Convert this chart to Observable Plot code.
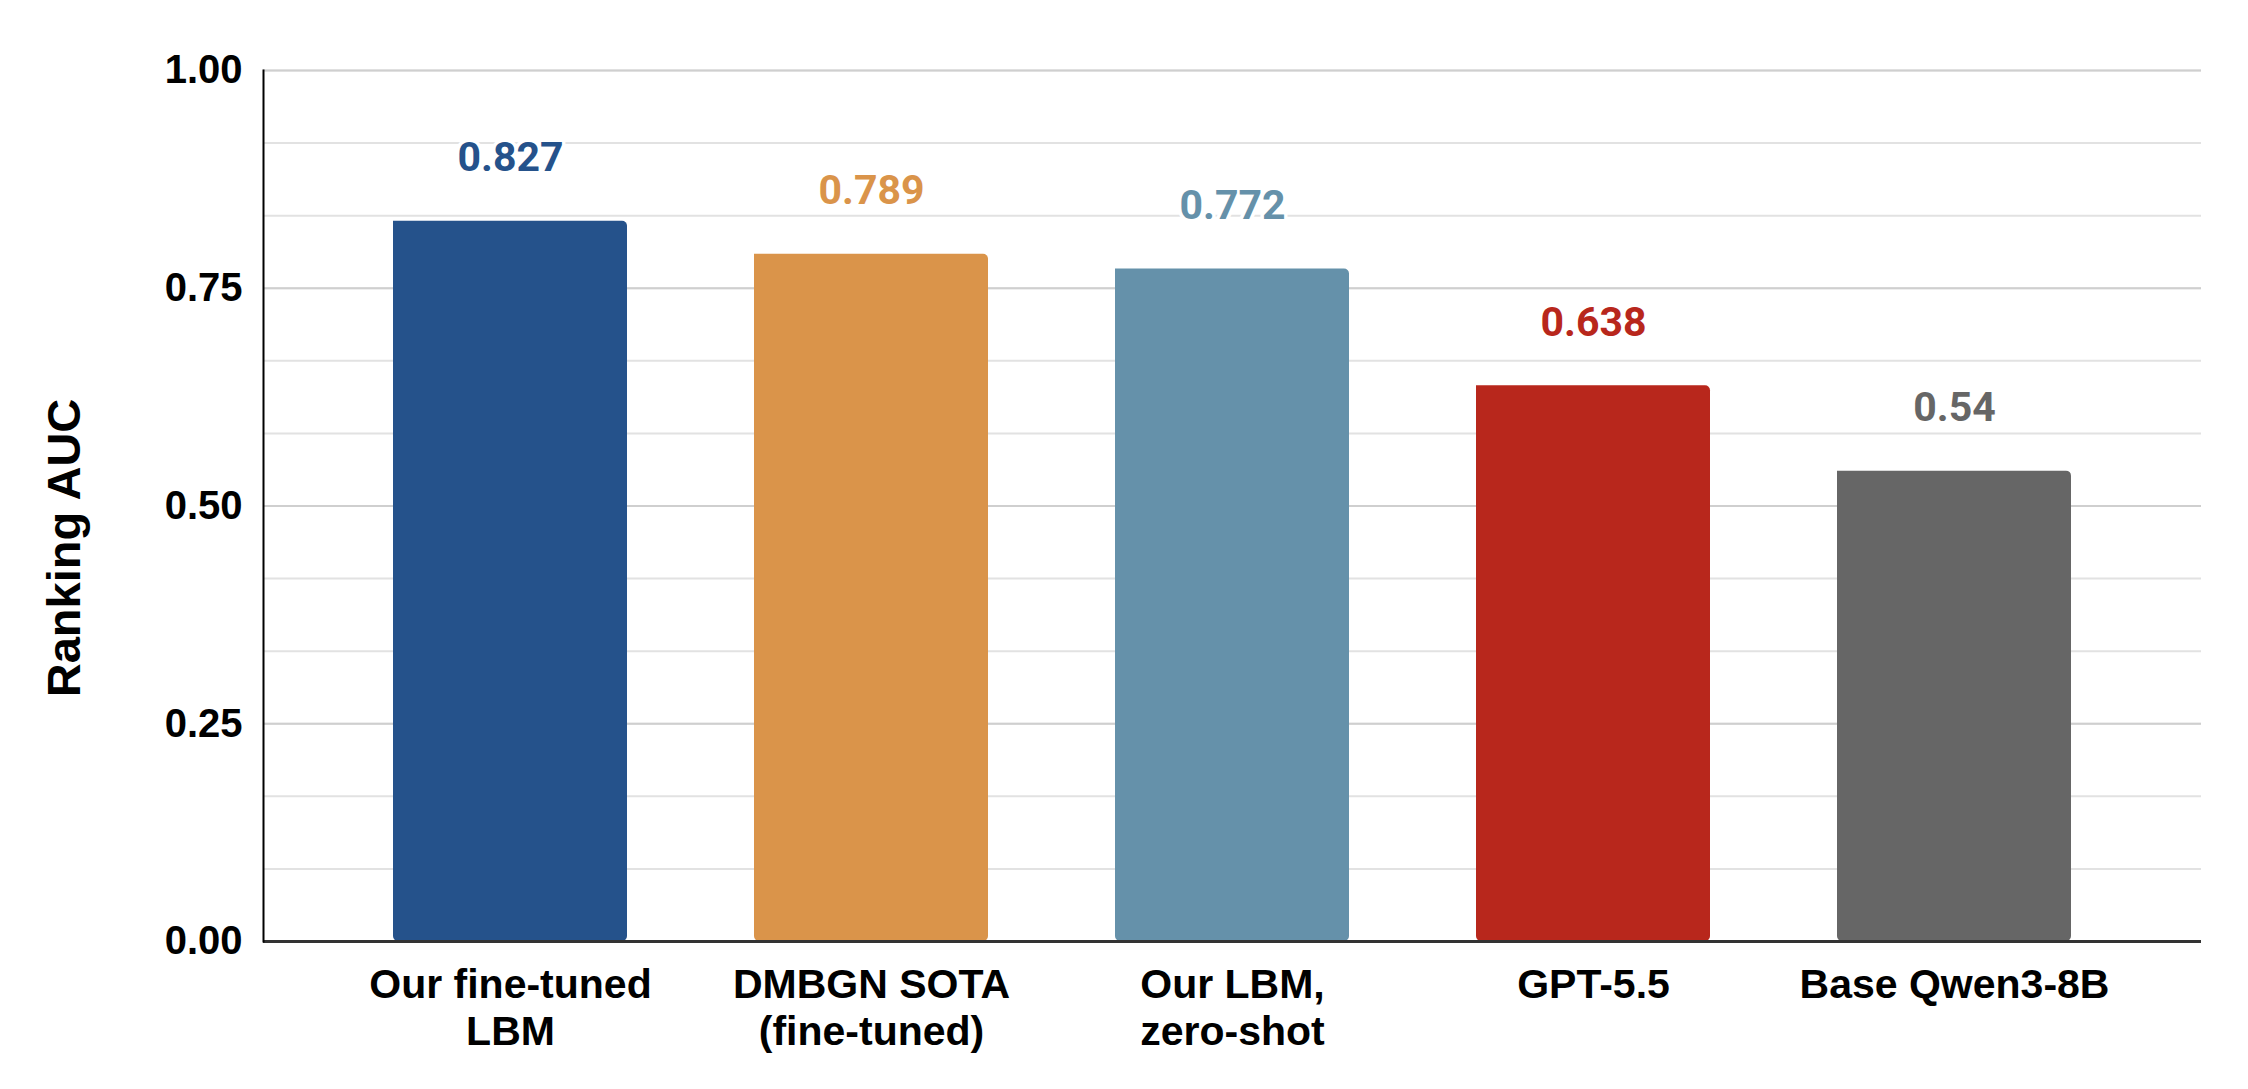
<!DOCTYPE html>
<html>
<head>
<meta charset="utf-8">
<script src="https://cdn.jsdelivr.net/npm/d3@7"></script>
<script src="https://cdn.jsdelivr.net/npm/@observablehq/plot@0.6"></script>
<style>
  html, body { margin: 0; padding: 0; background: #ffffff; }
  #chart svg { display: block; }
</style>
</head>
<body>
<div id="chart"></div>
<script>
// ---- Data ----
const categories = [
  "Our fine-tuned\nLBM",
  "DMBGN SOTA\n(fine-tuned)",
  "Our LBM,\nzero-shot",
  "GPT-5.5",
  "Base Qwen3-8B"
];
const aucValues = [0.827, 0.789, 0.772, 0.638, 0.54];
const yTickValues = [0, 0.25, 0.5, 0.75, 1];
const yAxisTitle = "Ranking AUC";

// ---- Styles ----
const barColors = ["#25528b", "#da944a", "#6591aa", "#b8271c", "#666666"];
const sansFont = "'Liberation Sans', Arial, Helvetica, sans-serif";

const rows = categories.map((c, i) => ({model: c, auc: aucValues[i]}));
const minorTicks = d3.range(0, 13).map(i => i / 12);

const chart = Plot.plot({
  width: 2248,
  height: 1089,
  marginTop: 70,
  marginRight: 47,
  marginBottom: 148,
  marginLeft: 263,
  style: {fontFamily: sansFont, background: "#ffffff", color: "#000"},
  x: {type: "band", domain: categories, paddingInner: 0.353, paddingOuter: 0.36, label: null},
  y: {domain: [0, 1], label: null},
  color: {type: "ordinal", domain: categories, range: barColors},
  marks: [
    Plot.gridY({ticks: minorTicks, stroke: "#e2e2e2", strokeOpacity: 1, strokeWidth: 2}),
    Plot.gridY({ticks: yTickValues, stroke: "#cfcfcf", strokeOpacity: 1, strokeWidth: 2}),
    Plot.barY(rows, {x: "model", y: "auc", fill: "model", ry2: 5, rx2: 5}),
    Plot.ruleY([0], {stroke: "#333333", strokeWidth: 3}),
    Plot.frame({anchor: "left", stroke: "#000", strokeWidth: 2}),
    Plot.axisY({
      ticks: yTickValues, tickFormat: d3.format(".2f"), tickSize: 0, tickPadding: 21,
      fontSize: 40, fontWeight: "bold", fill: "#000", label: null
    }),
    Plot.axisX({
      tickSize: 0, tickPadding: 24, fontSize: 41, fontWeight: "bold", fill: "#000",
      lineHeight: 1.13, label: null
    }),
    Plot.text(rows, {
      x: "model", y: "auc", text: d => String(d.auc),
      fill: "model", lineAnchor: "bottom", dy: -50,
      fontFamily: "Roboto, 'Noto Sans', sans-serif", fontWeight: "bold", fontSize: 41,
      stroke: "#ffffff", strokeWidth: 7, paintOrder: "stroke"
    }),
    Plot.text([yAxisTitle], {
      frameAnchor: "left", textAnchor: "middle", rotate: -90, dx: -199, dy: 42,
      fontSize: 47, fontWeight: "bold", fill: "#000"
    })
  ]
});

document.getElementById("chart").appendChild(chart);
</script>
</body>
</html>
